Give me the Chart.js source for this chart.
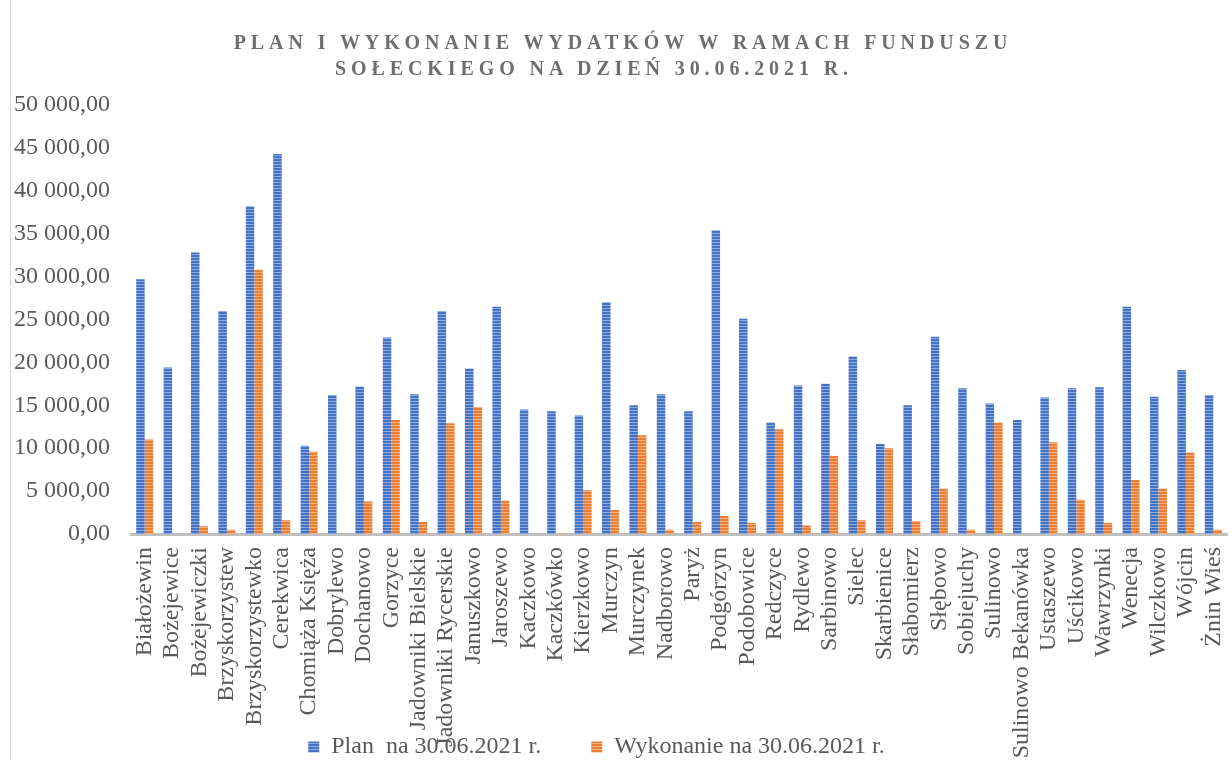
<!DOCTYPE html>
<html>
<head>
<meta charset="utf-8">
<script src="https://cdn.jsdelivr.net/npm/chart.js@4/dist/chart.umd.min.js"></script>
<style>
  body { margin: 0; background: #fff; }
  #wrap { position: relative; width: 1232px; height: 760px; overflow: hidden; }
  #frame { position: absolute; left: 10px; top: 0; width: 1px; height: 760px; background: #d9d9d9; }
  .title { position: absolute; left: 0; width: 1232px; text-align: center;
    font: bold 20px 'Times New Roman', 'Liberation Serif', serif; letter-spacing: 4.9px;
    color: #6e6e6e; line-height: 26px; white-space: pre; box-sizing: border-box; }
</style>
</head>
<body>
<div id="wrap">
  <canvas id="myChart" width="1232" height="760"></canvas>
  <div id="frame"></div>
  <div class="title" style="top:29px; padding-left:14px;">PLAN I WYKONANIE WYDATKÓW W RAMACH FUNDUSZU</div>
  <div class="title" style="top:55px; padding-right:44px;">SOŁECKIEGO NA DZIEŃ 30.06.2021 R.</div>
</div>
<script>
const villages = ['Białożewin', 'Bożejewice', 'Bożejewiczki', 'Brzyskorzystew', 'Brzyskorzystewko',
  'Cerekwica', 'Chomiąża Księża', 'Dobrylewo', 'Dochanowo', 'Gorzyce', 'Jadowniki Bielskie',
  'Jadowniki Rycerskie', 'Januszkowo', 'Jaroszewo', 'Kaczkowo', 'Kaczkówko', 'Kierzkowo',
  'Murczyn', 'Murczynek', 'Nadborowo', 'Paryż', 'Podgórzyn', 'Podobowice', 'Redczyce',
  'Rydlewo', 'Sarbinowo', 'Sielec', 'Skarbienice', 'Słabomierz', 'Słębowo', 'Sobiejuchy',
  'Sulinowo', 'Sulinowo Bekanówka', 'Ustaszewo', 'Uścikowo', 'Wawrzynki', 'Wenecja',
  'Wilczkowo', 'Wójcin', 'Żnin Wieś']

const plan = [29700, 19400, 32800, 26000, 38200, 44300, 10300, 16200, 17200, 22900, 16300,
  26000, 19300, 26500, 14500, 14300, 13800, 27000, 15000, 16300, 14300, 35400, 25100, 13000,
  17300, 17500, 20700, 10500, 15000, 23000, 17000, 15200, 13300, 15900, 17000, 17100, 26500,
  16000, 19100, 16200]

const wykonanie = [11000, 0, 900, 500, 30800, 1600, 9600, 0, 3800, 13300, 1400,
  12900, 14800, 3900, 0, 100, 5100, 2800, 11500, 500, 1400, 2100, 1300, 12200,
  1000, 9100, 1600, 10000, 1500, 5300, 500, 13000, 0, 10700, 4000, 1300, 6300,
  5300, 9500, 500]

const seriesNames = ['Plan  na 30.06.2021 r.', 'Wykonanie na 30.06.2021 r.']
const yTicks = [0, 5000, 10000, 15000, 20000, 25000, 30000, 35000, 40000, 45000, 50000]

const serif = "'Times New Roman', 'Liberation Serif', serif"
const textColor = '#595959'

// striped fill like the office chart bars
function stripes(base, light) {
    const c = document.createElement('canvas')
    c.width = 4
    c.height = 3
    const g = c.getContext('2d')
    g.fillStyle = base
    g.fillRect(0, 0, 4, 3)
    g.fillStyle = light
    g.fillRect(0, 2, 4, 1)
    return g.createPattern(c, 'repeat')
}

function plNumber(v) {
    const parts = v.toFixed(2).split('.')
    const int = parts[0].replace(/\B(?=(\d{3})+(?!\d))/g, ' ')
    return int + ',' + parts[1]
}

// the legend sits a bit left of centre in the original
const legendShift = {
    id: 'legendShift',
    afterLayout(chart) {
        chart.legend.left -= 23
        chart.legend.right -= 23
    }
}

const ctx = document.getElementById('myChart').getContext('2d')
const myChart = new Chart(ctx, {
    type: 'bar',
    data: {
        labels: villages,
        datasets: [{
            label: seriesNames[0],
            data: plan,
            backgroundColor: stripes('#4472C4', '#8FAADC'),
            borderWidth: 0
        }, {
            label: seriesNames[1],
            data: wykonanie,
            backgroundColor: stripes('#ED7D31', '#F4B183'),
            borderWidth: 0
        }]
    },
    plugins: [legendShift],
    options: {
        responsive: false,
        animation: false,
        layout: {
            padding: { top: 105, left: 12, right: 5, bottom: -9 }
        },
        datasets: {
            bar: { categoryPercentage: 0.62, barPercentage: 1 }
        },
        plugins: {
            tooltip: { enabled: false },
            legend: {
                position: 'bottom',
                labels: {
                    boxWidth: 11,
                    boxHeight: 11,
                    padding: 50,
                    color: textColor,
                    font: { family: serif, size: 24 }
                }
            }
        },
        scales: {
            x: {
                grid: { display: false, drawTicks: false },
                border: { display: true, color: '#bfbfbf', width: 3 },
                ticks: {
                    autoSkip: false,
                    minRotation: 90,
                    maxRotation: 90,
                    padding: 13,
                    color: textColor,
                    font: { family: serif, size: 24 }
                },
                afterFit: (scale) => {
                    scale.height = 151
                    scale.paddingLeft = 0
                    scale.paddingRight = 0
                    // long names run down over the legend, as in the original
                    scale._computeLabelArea = () => ({ top: scale.top, left: 0, bottom: 760, right: 1232 })
                }
            },
            y: {
                min: 0,
                max: 50000,
                grid: { display: false, drawTicks: false },
                border: { display: false },
                afterBuildTicks: (scale) => {
                    scale.ticks = yTicks.map(v => ({ value: v }))
                },
                ticks: {
                    padding: 21,
                    color: textColor,
                    font: { family: serif, size: 24 },
                    callback: (v) => plNumber(v)
                },
                afterFit: (scale) => {
                    scale.width = 119
                }
            }
        }
    }
})
</script>
</body>
</html>
